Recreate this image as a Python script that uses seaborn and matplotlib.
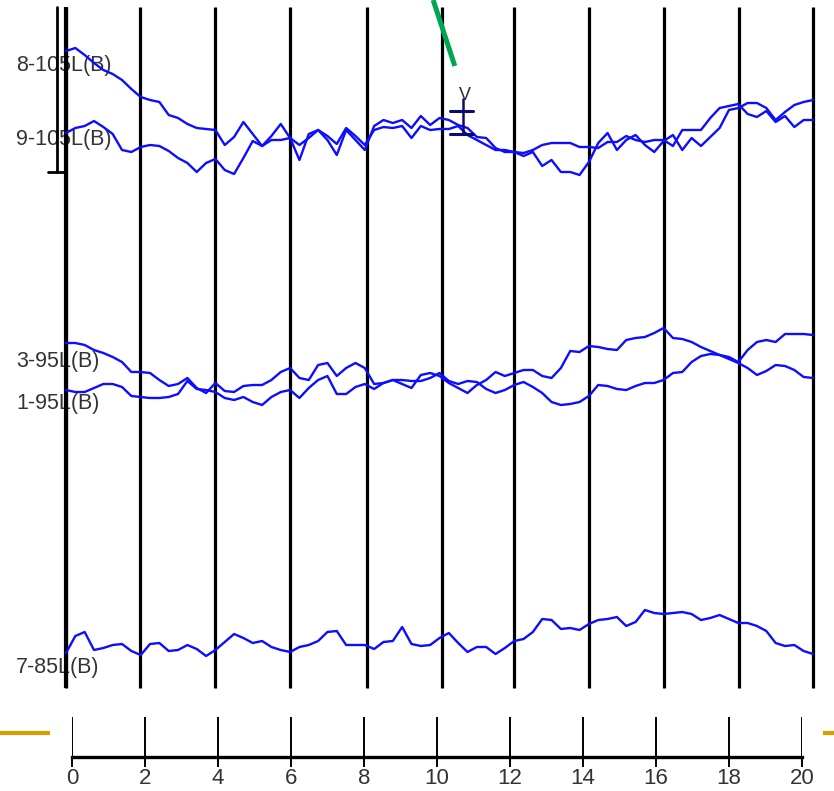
import numpy as np
import pandas as pd
import matplotlib
matplotlib.use("Agg")
import matplotlib.pyplot as plt
import seaborn as sns

sns.set_style("white")
plt.rcParams['font.family'] = ['Liberation Sans', 'DejaVu Sans']

# time axis (s), one sample every 0.25 s
t = np.arange(0, 20.01, 0.25)

# traces (screen units, larger = lower on the page)
lead_8_105 = [51, 48, 55, 63, 70, 74, 80, 89, 97, 100, 102, 115, 118, 124, 128, 129,
              130, 145, 137, 122, 134, 146, 136, 124, 138, 160, 134, 130, 140, 155, 130, 140,
              150, 126, 120, 123, 120, 128, 116, 125, 118, 120, 125, 128, 137, 138, 148, 152,
              152, 156, 152, 166, 160, 172, 172, 175, 162, 143, 133, 150, 140, 135, 145, 152,
              141, 135, 150, 138, 146, 137, 128, 110, 108, 103, 103, 108, 120, 112, 105, 102, 100]
lead_9_105 = [133, 128, 126, 121, 127, 134, 150, 152, 147, 145, 146, 151, 158, 163, 172, 163,
              159, 170, 174, 158, 141, 146, 140, 140, 138, 145, 138, 130, 136, 144, 128, 136,
              145, 130, 127, 128, 126, 138, 126, 130, 129, 129, 126, 135, 140, 145, 150, 150,
              152, 153, 150, 145, 143, 143, 143, 147, 147, 148, 142, 142, 136, 140, 142, 140,
              140, 146, 130, 130, 130, 118, 108, 106, 104, 114, 117, 111, 122, 116, 127, 120, 120]
lead_3_95 = [343, 343, 345, 350, 353, 357, 362, 372, 372, 373, 380, 386, 384, 378, 388, 393,
             383, 391, 392, 386, 385, 385, 380, 372, 368, 378, 380, 365, 363, 376, 368, 363,
             368, 384, 383, 380, 384, 388, 375, 373, 376, 383, 388, 393, 385, 380, 372, 376,
             373, 370, 370, 376, 378, 368, 351, 352, 346, 347, 349, 350, 340, 338, 337, 333,
             328, 338, 339, 342, 347, 351, 355, 359, 363, 368, 375, 371, 365, 366, 370, 377, 378]
lead_1_95 = [390, 392, 392, 388, 384, 384, 387, 396, 397, 398, 398, 397, 394, 381, 389, 390,
             392, 398, 400, 397, 402, 405, 397, 392, 390, 398, 388, 380, 376, 394, 394, 387,
             384, 389, 383, 380, 380, 381, 381, 378, 373, 381, 384, 381, 382, 389, 393, 390,
             385, 382, 387, 393, 402, 405, 404, 402, 396, 385, 386, 389, 390, 386, 383, 383,
             380, 373, 372, 362, 356, 354, 355, 357, 362, 350, 342, 340, 342, 334, 334, 334, 335]
lead_7_85 = [653, 636, 632, 650, 648, 645, 644, 651, 655, 644, 643, 651, 650, 645, 649, 656,
             650, 642, 634, 638, 643, 641, 647, 650, 652, 647, 645, 641, 632, 631, 645, 645,
             645, 649, 642, 641, 627, 644, 646, 645, 638, 633, 643, 652, 647, 647, 654, 648,
             641, 639, 632, 619, 620, 629, 628, 630, 624, 620, 619, 617, 626, 622, 610, 613,
             614, 613, 612, 614, 620, 618, 615, 619, 623, 623, 626, 631, 643, 646, 645, 651, 654]

lead_names = ["8-105L(B)", "9-105L(B)", "3-95L(B)", "1-95L(B)", "7-85L(B)"]
label_rows = [65, 140, 361, 403, 667]

# marker lines (s)
marker_times = [0, 1.98, 3.99, 6.0, 8.06, 10.07, 11.99, 14.0, 16.01, 18.02, 20.0]
tick_values = list(range(0, 21, 2))

df = pd.concat([
    pd.DataFrame({"t": t, "v": vals, "lead": name})
    for name, vals in zip(lead_names, [lead_8_105, lead_9_105, lead_3_95, lead_1_95, lead_7_85])
])

W, H = 834, 791
px_per_s = (813 - 66) / 20.0
fig = plt.figure(figsize=(W / 100, H / 100), dpi=100)
ax = fig.add_axes([0, 0, 1, 1])
ax.set_xlim(-66 / px_per_s, 20 + (W - 813) / px_per_s)
ax.set_ylim(H, 0)
ax.axis("off")

# channel labels (under the traces)
for name, row in zip(lead_names, label_rows):
    ax.text(-50 / px_per_s, row, name, ha="left", va="center",
            fontsize=15.5, color="#333333", zorder=1)

sns.lineplot(data=df, x="t", y="v", units="lead", estimator=None,
             color="#0d0dff", lw=1.7, ax=ax, zorder=3, legend=False)
ax.set_xlim(-66 / px_per_s, 20 + (W - 813) / px_per_s)
ax.set_ylim(H, 0)

# marker lines
ax.vlines(marker_times, 7, 688, color="black", lw=2.3, zorder=2)
ax.vlines([0], 7, 688, color="black", lw=3.0, zorder=2)

# amplitude scale bar at top-left
sb = -9 / px_per_s
ax.plot([sb, sb], [7, 172], color="black", lw=2.0, zorder=2)
ax.plot([-18 / px_per_s, 0], [172, 172], color="black", lw=2.0, zorder=2)

# small scale marker "V"
cx = 10.63
ax.plot([cx, cx], [99, 134], color="#0a0a70", lw=1.8, zorder=4)
ax.plot([10.28, 10.90], [111, 111], color="#0a0a70", lw=2.2, zorder=4)
ax.plot([10.28, 10.90], [134, 134], color="#0a0a70", lw=2.2, zorder=4)
ax.text(cx + 0.05, 95, "V", ha="center", va="center", fontsize=13,
        color="#2a2a4a", zorder=4)

# green pointer
ax.plot([9.83, 10.41], [0, 66], color="#00a651", lw=3.6, zorder=4,
        solid_capstyle="butt")

# golden rule pieces
ax.plot([-66 / px_per_s, -16 / px_per_s], [733, 733], color="#d4a000", lw=3.0,
        solid_capstyle="butt")
ax.plot([20 + 10 / px_per_s, 20 + 21 / px_per_s], [733, 733], color="#d4a000", lw=3.0,
        solid_capstyle="butt")

# time axis
ax2 = fig.add_axes([72 / W, (H - 757) / H, 730 / W, 40 / H])
ax2.set_xlim(0, 20)
ax2.set_ylim(0, 1)
ax2.patch.set_alpha(0)
for s in ["top", "left", "right"]:
    ax2.spines[s].set_visible(False)
ax2.spines["bottom"].set_linewidth(2.4)
ax2.spines["bottom"].set_color("black")
ax2.vlines(tick_values, 0, 1, color="black", lw=1.4)
ax2.set_yticks([])
ax2.set_xticks(tick_values)
ax2.set_xticklabels([str(v) for v in tick_values], fontsize=16, color="#333333")
ax2.tick_params(axis="x", direction="out", length=7, width=1.4, pad=1,
                bottom=True, colors="black", labelcolor="#333333")
for lab in ax2.get_xticklabels():
    lab.set_x(lab.get_position()[0])

fig.savefig("out.png", dpi=100)
